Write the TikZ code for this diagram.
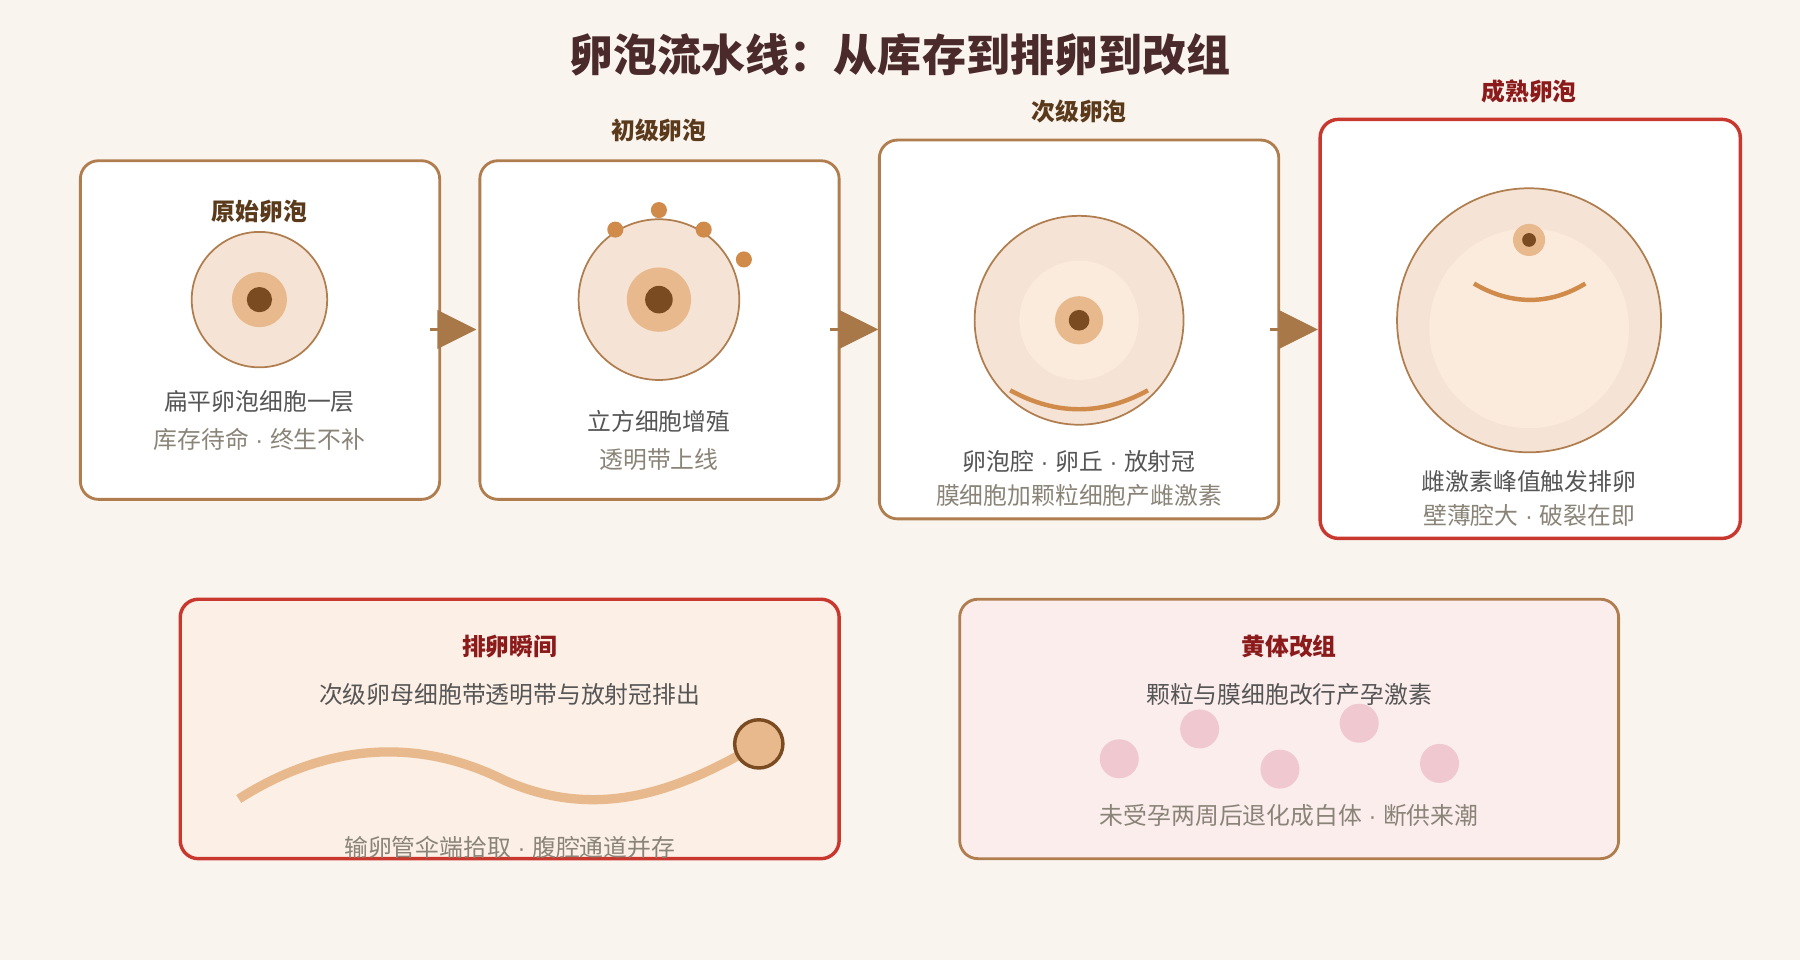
\documentclass[tikz,border=0pt]{standalone}
\usepackage{fontspec}
\setmainfont{Noto Sans CJK SC}
\newfontfamily\lat{Liberation Sans}
\newcommand{\sep}{{\lat\ ·\ }}
\usetikzlibrary{calc}
\definecolor{bgc}{HTML}{FAF4EF}
\definecolor{brd}{HTML}{B07D4F}
\definecolor{redb}{HTML}{C8382E}
\definecolor{ttl}{HTML}{4A2A2A}
\definecolor{hdr}{HTML}{5A3A1A}
\definecolor{hdrred}{HTML}{8B1A1A}
\definecolor{txt}{HTML}{555555}
\definecolor{sub}{HTML}{8A8478}
\definecolor{cell}{HTML}{F5E3D5}
\definecolor{cellin}{HTML}{FAEBDD}
\definecolor{ooc}{HTML}{E8B98C}
\definecolor{nuc}{HTML}{7A4A20}
\definecolor{gran}{HTML}{D08A4A}
\definecolor{arr}{HTML}{A87848}
\definecolor{pinkbg}{HTML}{FCEDED}
\definecolor{peachbg}{HTML}{FCEFE6}
\definecolor{pinkdot}{HTML}{F0C8D0}
\tikzstyle{box}=[draw=brd,line width=0.7pt,rounded corners=4.5pt,fill=white]
\tikzstyle{redbox}=[draw=redb,line width=0.85pt,rounded corners=4.5pt]
\tikzstyle{hd}=[font=\fontsize{5.9}{6}\selectfont\bfseries,text=hdr]
\tikzstyle{hdr}=[font=\fontsize{5.9}{6}\selectfont\bfseries,text=hdrred]
\tikzstyle{tx}=[font=\fontsize{5.9}{6}\selectfont,text=txt]
\tikzstyle{st}=[font=\fontsize{5.9}{6}\selectfont,text=sub]
\tikzstyle{cellc}=[draw=brd,line width=0.43pt,fill=cell]
\begin{document}
\begin{tikzpicture}[x=0.01cm,y=-0.01cm]
  \fill[bgc] (0,0) rectangle (1568,836);
  \useasboundingbox (0,0) rectangle (1568,836);
  \node[font=\fontsize{10.9}{12}\selectfont\bfseries,text=ttl] (title) at (784,48) {卵泡流水线：从库存到排卵到改组};
  % stage boxes
  \draw[box] (70,140) rectangle (383,435);
  \draw[box] (418,140) rectangle (731,435);
  \draw[box] (766,122) rectangle (1114,452);
  \draw[redbox,fill=white] (1150,104) rectangle (1516,469);
  % arrows between stages
  \foreach \xa/\xb in {375/415, 723/765, 1106/1148}{
    \coordinate (a) at (\xa,287);
    \coordinate (b) at (\xb,287);
    \draw[draw=arr,line width=0.85pt] (a) -- ($(b)+(-30,0)$);
    \fill[arr] ($(b)+(-34,-17)$) -- (b) -- ($(b)+(-34,17)$) -- cycle;
  }
  % primordial
  \node[hd] (h1) at (226,184) {原始卵泡};
  \draw[cellc] (226,261) circle (59);
  \fill[ooc] (226,261) circle (24);
  \fill[nuc] (226,261) circle (11);
  \node[tx] (t1) at (226,350) {扁平卵泡细胞一层};
  \node[st] (s1) at (226,383) {库存待命\sep 终生不补};
  % primary
  \node[hd] (h2) at (574,114) {初级卵泡};
  \draw[cellc] (574,261) circle (70);
  \fill[ooc] (574,261) circle (28);
  \fill[nuc] (574,261) circle (12);
  \foreach \p in {(536,200),(574,183),(613,200),(648,226)}
    \fill[gran] \p circle (7);
  \node[tx] (t2) at (574,367) {立方细胞增殖};
  \node[st] (s2) at (574,400) {透明带上线};
  % secondary
  \node[hd] (h3) at (940,97) {次级卵泡};
  \draw[cellc] (940,279) circle (91);
  \fill[cellin] (940,279) circle (52);
  \fill[ooc] (940,279) circle (21);
  \fill[nuc] (940,279) circle (9);
  \draw[gran,line width=1.1pt] (880,340) .. controls (920,362) and (960,362) .. (1000,340);
  \node[tx] (t3) at (940,402) {卵泡腔\sep 卵丘\sep 放射冠};
  \node[st] (s3) at (940,432) {膜细胞加颗粒细胞产雌激素};
  % mature
  \node[hdr] (h4) at (1332,80) {成熟卵泡};
  \draw[cellc] (1332,279) circle (115);
  \fill[cellin] (1332,286) circle (87);
  \fill[ooc] (1332,209) circle (14);
  \fill[nuc] (1332,209) circle (6);
  \draw[gran,line width=1.1pt] (1284,247) .. controls (1316,266) and (1350,266) .. (1381,247);
  \node[tx] (t4) at (1332,419) {雌激素峰值触发排卵};
  \node[st] (s4) at (1332,449) {壁薄腔大\sep 破裂在即};
  % ovulation
  \draw[redbox,fill=peachbg] (157,522) rectangle (731,748);
  \node[hdr] (h5) at (444,563) {排卵瞬间};
  \node[tx] (t5) at (444,605) {次级卵母细胞带透明带与放射冠排出};
  \coordinate (tube) at (208,696);
  \draw[ooc,line width=2.3pt] (tube) .. controls (280,650) and (360,640) .. (440,680)
    .. controls (520,715) and (590,690) .. (661,648);
  \node[circle,draw=nuc,line width=0.85pt,fill=ooc,minimum size=0.42cm,inner sep=0] (egg) at (661,648) {};
  \node[st] (s5) at (444,738) {输卵管伞端拾取\sep 腹腔通道并存};
  % corpus luteum
  \draw[box,fill=pinkbg] (836,522) rectangle (1410,748);
  \node[hdr] (h6) at (1123,563) {黄体改组};
  \node[tx] (t6) at (1123,605) {颗粒与膜细胞改行产孕激素};
  \foreach \p in {(975,661),(1045,635),(1115,670),(1184,630),(1254,665)}
    \fill[pinkdot] \p circle (17);
  \node[st] (s6) at (1123,710) {未受孕两周后退化成白体\sep 断供来潮};
\end{tikzpicture}
\end{document}
